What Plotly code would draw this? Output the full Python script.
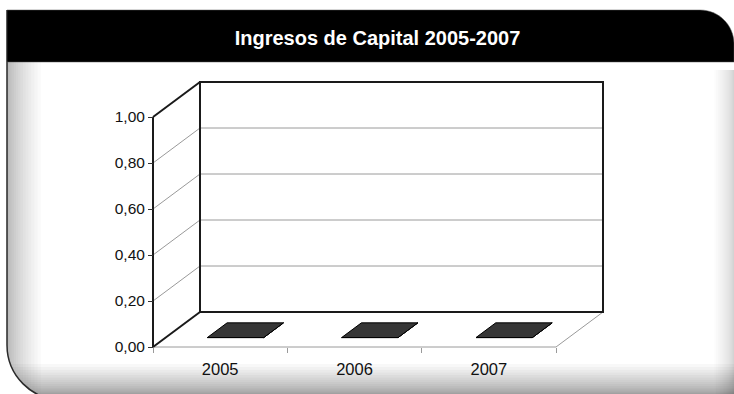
import plotly.graph_objects as go

# ---------------- data ----------------
categories = ["2005", "2006", "2007"]
values = [0.0, 0.0, 0.0]
y_tick_values = [0.0, 0.2, 0.4, 0.6, 0.8, 1.0]
title_text = "Ingresos de Capital 2005-2007"

# ---------------- geometry ----------------
FIG_W, FIG_H = 734, 394
ORIGIN_X, ORIGIN_Y = 153, 347      # front-left-bottom corner of the 3-D box (px)
CAT_PX = 134.33                    # pixels per category
VAL_PX = 230.0                     # pixels per value unit
DEPTH_PX = (47, 35)                # oblique depth offset (px)
PAD = 4

n = len(categories)
y_max = y_tick_values[-1]
DX = DEPTH_PX[0] / CAT_PX
DY = DEPTH_PX[1] / VAL_PX
x0, x1 = -0.5, n - 0.5
xr = [x0 - PAD / CAT_PX, x1 + DX + PAD / CAT_PX]
yr = [-PAD / VAL_PX, y_max + DY + PAD / VAL_PX]
plot_w = (xr[1] - xr[0]) * CAT_PX
plot_h = (yr[1] - yr[0]) * VAL_PX
ml = ORIGIN_X - PAD
mb = FIG_H - ORIGIN_Y - PAD
mt = FIG_H - mb - plot_h
mr = FIG_W - ml - plot_w

BAR_HALF = 0.21
BAR_SHIFT = 0.02
D0, D1 = 0.27, 0.69

GRID = "#9a9a9a"
EDGE = "#1a1a1a"
BAR_FILL = "#363636"
FONT = "Liberation Sans, Arial, sans-serif"

fig = go.Figure()


def seg(xs, ys, color, width):
    fig.add_trace(go.Scatter(x=xs, y=ys, mode="lines",
                             line=dict(color=color, width=width),
                             hoverinfo="skip", showlegend=False))


# gridlines on side wall and back wall
for v in y_tick_values[1:-1]:
    seg([x0, x0 + DX], [v, v + DY], GRID, 1)
    seg([x0 + DX, x1 + DX], [v + DY, v + DY], GRID, 1)

# floor edges (gray)
seg([x0, x1], [0, 0], GRID, 1)
seg([x1, x1 + DX], [0, DY], GRID, 1)

# back wall frame
seg([x0 + DX, x1 + DX, x1 + DX, x0 + DX, x0 + DX],
    [DY, DY, y_max + DY, y_max + DY, DY], EDGE, 2)
# side wall edges
seg([x0, x0 + DX], [0, DY], EDGE, 2)
seg([x0, x0 + DX], [y_max, y_max + DY], EDGE, 2)
seg([x0, x0], [0, y_max], EDGE, 2)

# bars (3-D boxes; zero-height values leave only the top face visible)
for i, v in enumerate(values):
    cx = i + BAR_SHIFT
    xa, xb = cx - BAR_HALF, cx + BAR_HALF
    faces = [
        ([xb + D0 * DX, xb + D1 * DX, xb + D1 * DX, xb + D0 * DX, xb + D0 * DX],
         [D0 * DY, D1 * DY, v + D1 * DY, v + D0 * DY, D0 * DY]),
        ([xa + D0 * DX, xb + D0 * DX, xb + D0 * DX, xa + D0 * DX, xa + D0 * DX],
         [D0 * DY, D0 * DY, v + D0 * DY, v + D0 * DY, D0 * DY]),
        ([xa + D0 * DX, xb + D0 * DX, xb + D1 * DX, xa + D1 * DX, xa + D0 * DX],
         [v + D0 * DY, v + D0 * DY, v + D1 * DY, v + D1 * DY, v + D0 * DY]),
    ]
    for fx, fy in faces:
        fig.add_trace(go.Scatter(x=fx, y=fy, mode="lines", fill="toself",
                                 fillcolor=BAR_FILL,
                                 line=dict(color="#000000", width=1),
                                 hoverinfo="skip", showlegend=False))


# ---------------- decorative frame (shapes, pixel -> paper) ----------------
def px(x):
    return (x - ml) / plot_w


def py(y):
    return (FIG_H - mb - y) / plot_h


def path(cmds):
    out = []
    for c in cmds:
        s = c[0]
        for (a, b) in c[1:]:
            s += " %.5f,%.5f" % (px(a), py(b))
        out.append(s)
    return " ".join(out) + " Z"


shapes = []
K = 0.5523
RT = 34   # top-right radius
RB = 55   # bottom-left radius
FL, FT, FR, FB = 7, 10, 734, 400

frame_cmds = [
    ("M", (FL, FT)),
    ("L", (FR - RT, FT)),
    ("C", (FR - RT + K * RT, FT), (FR, FT + RT - K * RT), (FR, FT + RT)),
    ("L", (FR, FB)),
    ("L", (FL + RB, FB)),
    ("C", (FL + RB - K * RB, FB), (FL, FB - RB + K * RB), (FL, FB - RB)),
]
shapes.append(dict(type="path", xref="paper", yref="paper", layer="below",
                   path=path(frame_cmds), fillcolor="white",
                   line=dict(width=0)))

N = 16
for k in range(N):
    f = ((N - k) / N) ** 1.6
    w = 34 * f
    shapes.append(dict(type="rect", xref="paper", yref="paper", layer="below",
                       x0=px(FL), x1=px(FL + w), y0=py(62), y1=py(FB),
                       fillcolor="rgba(0,0,0,0.021)", line=dict(width=0)))
    h = 30 * f
    shapes.append(dict(type="rect", xref="paper", yref="paper", layer="below",
                       x0=px(FL), x1=px(FR), y0=py(FIG_H), y1=py(FIG_H - h),
                       fillcolor="rgba(0,0,0,0.028)", line=dict(width=0)))
    w = 20 * f
    shapes.append(dict(type="rect", xref="paper", yref="paper", layer="below",
                       x0=px(FR - w), x1=px(FR), y0=py(70), y1=py(FIG_H),
                       fillcolor="rgba(0,0,0,0.013)", line=dict(width=0)))

mask_cmds = [
    ("M", (0, FB - RB)),
    ("L", (FL, FB - RB)),
    ("C", (FL, FB - RB + K * RB), (FL + RB - K * RB, FB), (FL + RB, FB)),
    ("L", (0, FB)),
]
shapes.append(dict(type="path", xref="paper", yref="paper", layer="below",
                   path=path(mask_cmds), fillcolor="white", line=dict(width=0)))

border = "M %.5f,%.5f L %.5f,%.5f C %.5f,%.5f %.5f,%.5f %.5f,%.5f" % (
    px(FL), py(FT), px(FL), py(FB - RB),
    px(FL), py(FB - RB + K * RB), px(FL + RB - K * RB), py(FB),
    px(FL + RB), py(FB))
shapes.append(dict(type="path", xref="paper", yref="paper", layer="below",
                   path=border, line=dict(color="#2a2a2a", width=1.5)))

header_cmds = [
    ("M", (FL, FT)),
    ("L", (FR - RT, FT)),
    ("C", (FR - RT + K * RT, FT), (FR, FT + RT - K * RT), (FR, FT + RT)),
    ("L", (FR, 62)),
    ("L", (FL, 62)),
]
shapes.append(dict(type="path", xref="paper", yref="paper", layer="below",
                   path=path(header_cmds), fillcolor="black",
                   line=dict(color="#555555", width=0.5)))

fig.update_layout(
    width=FIG_W, height=FIG_H, autosize=False,
    margin=dict(l=ml, r=mr, t=mt, b=mb, pad=0),
    paper_bgcolor="white", plot_bgcolor="rgba(0,0,0,0)",
    separators=",.",
    showlegend=False,
    shapes=shapes,
    title=dict(text=title_text, x=377.5 / FIG_W, xref="container", xanchor="center",
               y=1 - 37.5 / FIG_H, yref="container", yanchor="middle",
               font=dict(family=FONT, size=20, color="white", weight="bold")),
    xaxis=dict(range=xr, showgrid=False, zeroline=False, showline=False,
               tickmode="array", tickvals=list(range(n)), ticktext=categories,
               ticks="", ticklabelstandoff=10,
               tickfont=dict(family=FONT, size=16.5, color="#111111"),
               minor=dict(tickmode="array",
                          tickvals=[x0 + k for k in range(n + 1)],
                          ticks="outside", ticklen=5, tickcolor=GRID, tickwidth=1),
               anchor="free", position=PAD / plot_h, fixedrange=True),
    yaxis=dict(range=yr, showgrid=False, zeroline=False, showline=False,
               tickmode="array", tickvals=y_tick_values, tickformat=".2f",
               ticks="outside", ticklen=5, tickcolor="#333333", tickwidth=1,
               tickfont=dict(family=FONT, size=15.5, color="#111111"),
               anchor="free", position=PAD / plot_w, fixedrange=True),
)

fig.write_html("out.html", config={"displayModeBar": False},
               post_script="document.body.style.margin='0';")
